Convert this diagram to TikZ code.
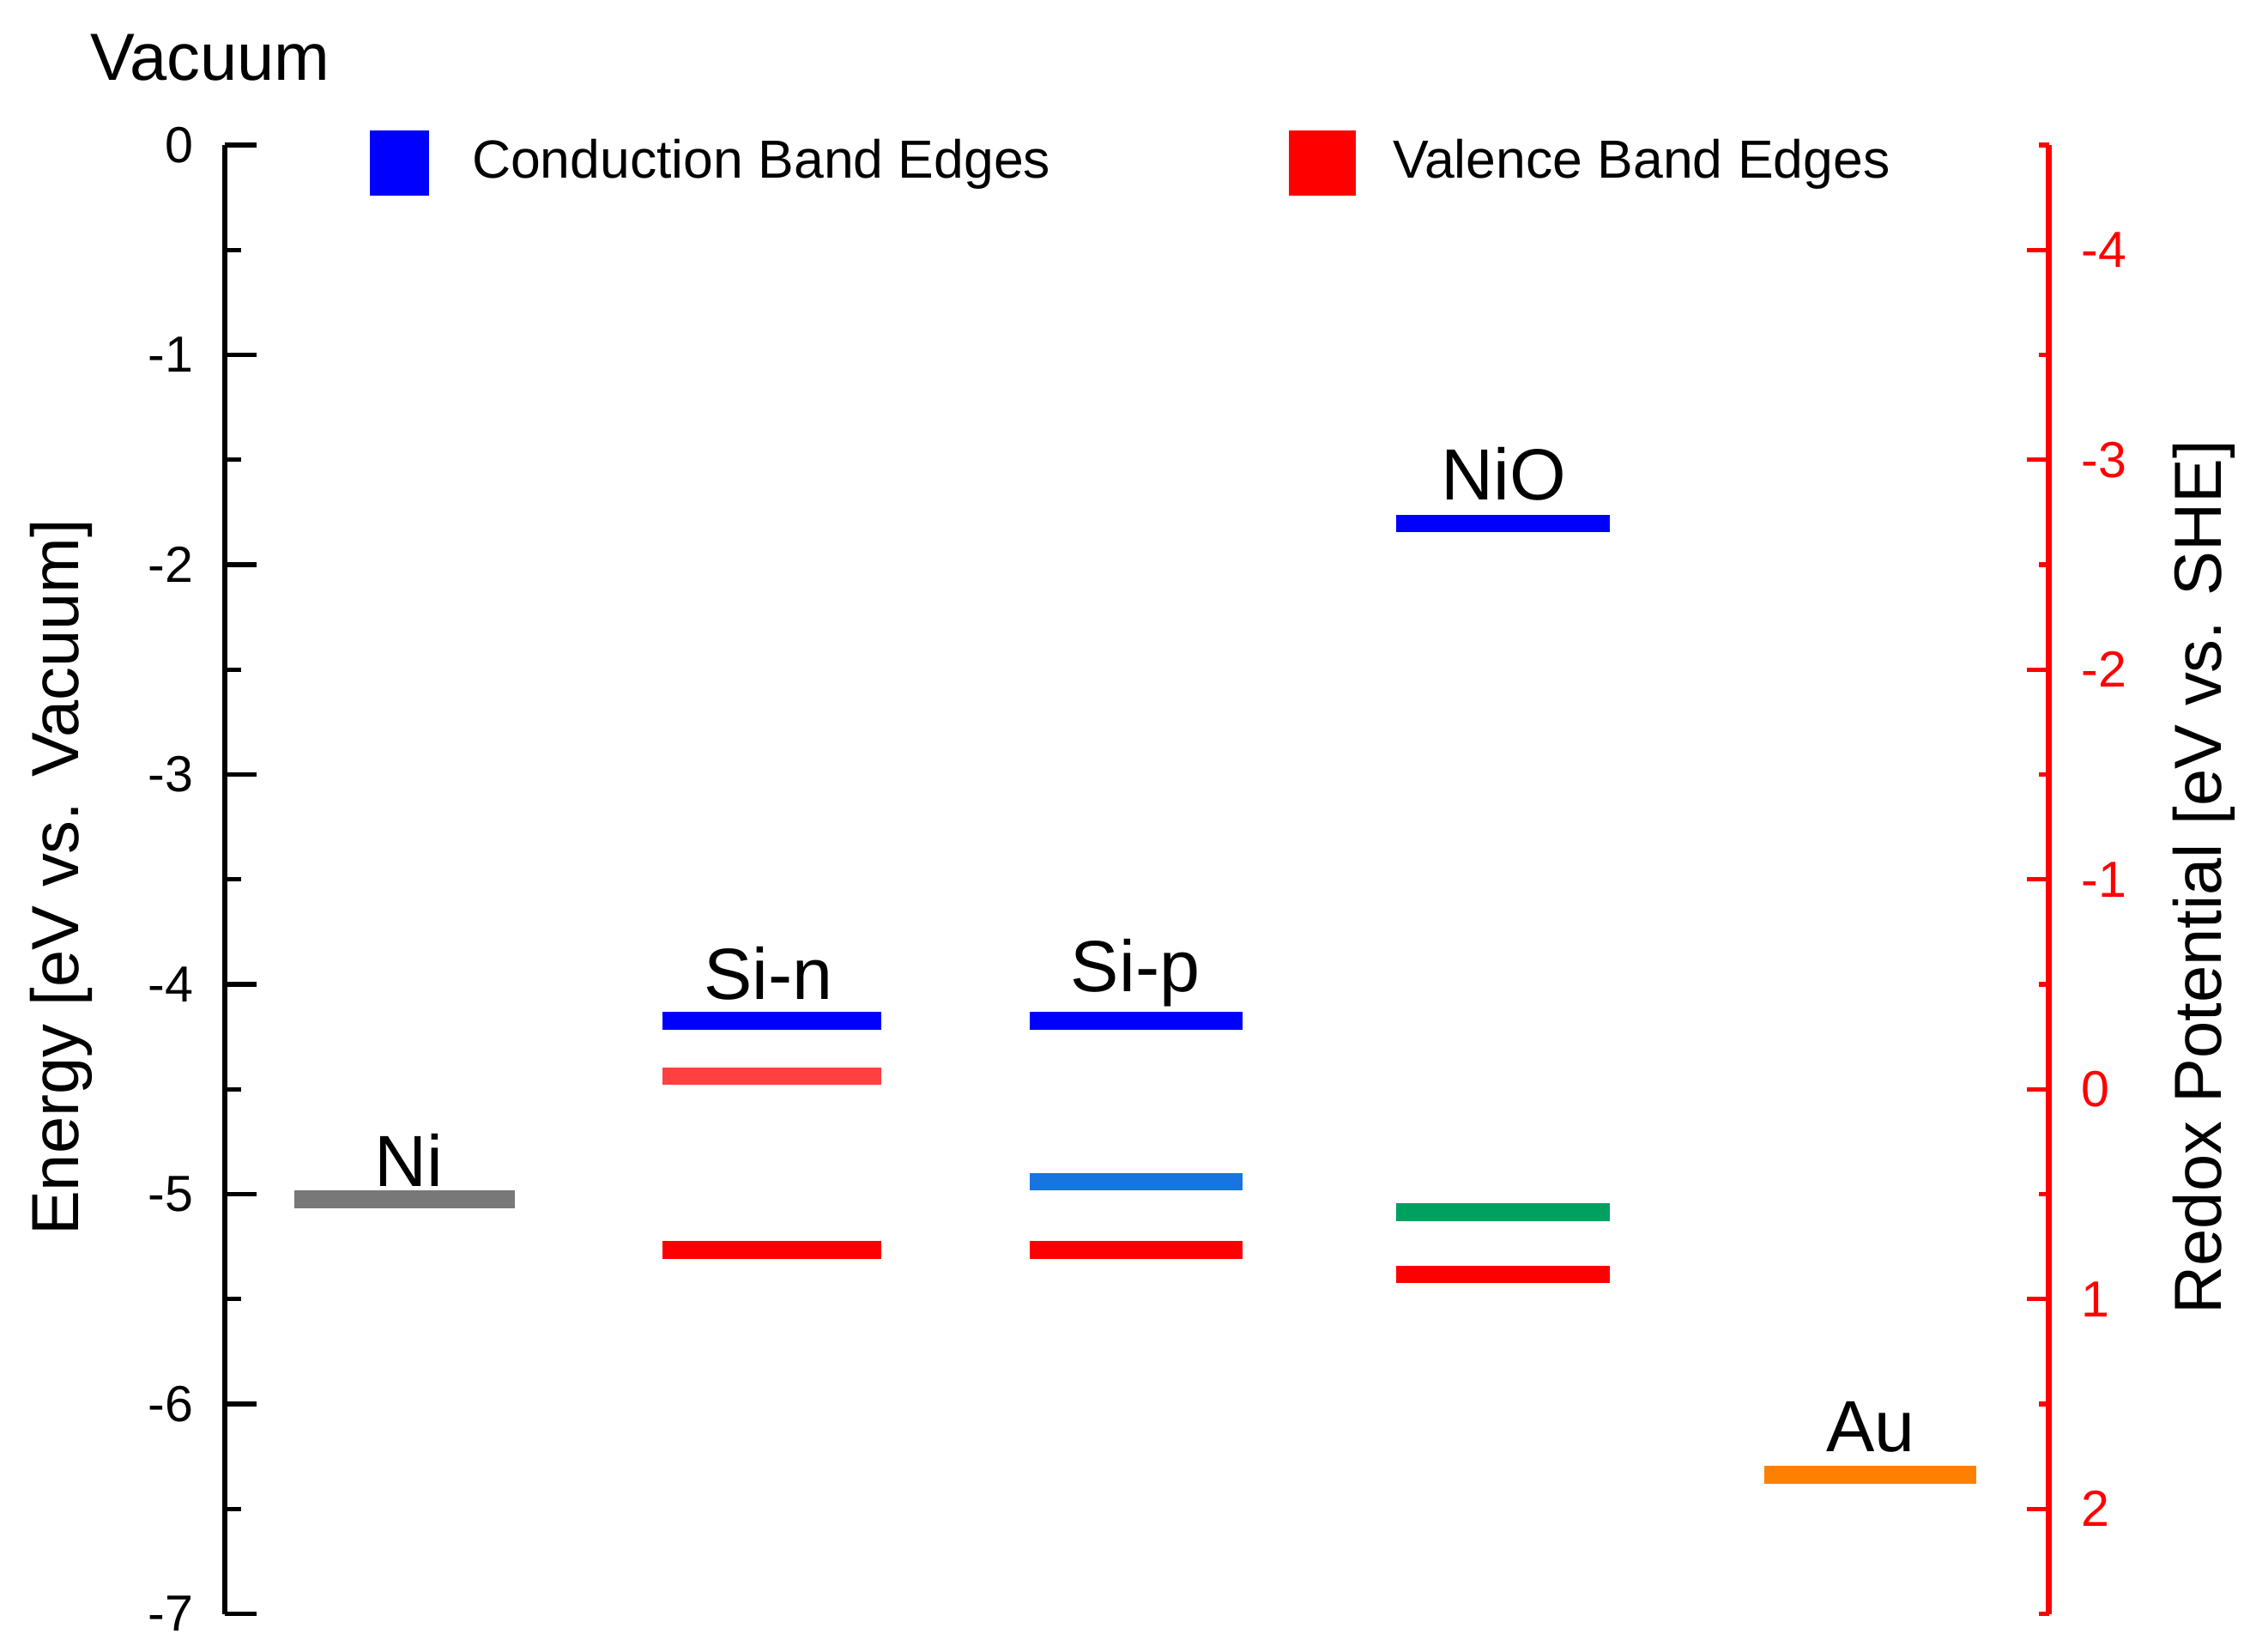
\documentclass[tikz,border=0pt]{standalone}
\usepackage{fontspec}
\setmainfont{Liberation Sans}
\definecolor{cbblue}{RGB}{0,0,255}
\definecolor{cbred}{RGB}{255,0,0}
\definecolor{lred}{RGB}{255,64,64}
\definecolor{mblue}{RGB}{24,116,224}
\definecolor{cgreen}{RGB}{0,160,96}
\definecolor{corange}{RGB}{255,128,0}
\definecolor{cgray}{RGB}{120,120,120}
\tikzset{
 bar/.style={line width=12pt},
 tlab/.style={font=\fontsize{35}{35}\selectfont},
 blab/.style={font=\fontsize{50}{50}\selectfont},
 ttl/.style={font=\fontsize{46}{46}\selectfont},
 leg/.style={font=\fontsize{37}{37}\selectfont, anchor=west},
}
\begin{document}
\begin{tikzpicture}[x=1pt,y=-1pt]
\useasboundingbox (0,0) rectangle (1560,1139);
% left axis
\draw[line width=4pt] (155,100) -- (155,1113);
\foreach \i in {0,...,7}{
  \pgfmathsetmacro\yy{100+\i*144.7}
  \draw[line width=3pt] (155,\yy) -- (177,\yy);
  \node[tlab,anchor=east] at (137,\yy) {\ifnum\i=0 0\else -\i\fi};
}
\foreach \i in {0,...,6}{
  \pgfmathsetmacro\yy{100+(\i+0.5)*144.7}
  \draw[line width=3pt] (155,\yy) -- (166,\yy);
}
% right axis
\draw[cbred,line width=4pt] (1413,100) -- (1413,1113);
\foreach \r in {-4,...,2}{
  \pgfmathsetmacro\yy{100+(\r+4.5)*144.7}
  \draw[cbred,line width=3pt] (1413,\yy) -- (1398,\yy);
  \node[tlab,text=cbred,anchor=west] at (1432,\yy) {\r};
}
\foreach \r in {-4.5,-3.5,...,2.5}{
  \pgfmathsetmacro\yy{100+(\r+4.5)*144.7}
  \draw[cbred,line width=3pt] (1413,\yy) -- (1406,\yy);
}
% titles
\node[ttl] (vac) at (145,40) {Vacuum};
\node[ttl,rotate=90] (ytl) at (42,605) {Energy [eV vs. Vacuum]};
\node[ttl,rotate=90] (ytr) at (1520,605) {Redox Potential [eV vs. SHE]};
% legend
\fill[cbblue] (255,90) rectangle (296,135);
\node[leg] (lc) at (322,113) {Conduction Band Edges};
\fill[cbred] (889,90) rectangle (935,135);
\node[leg] (lv) at (957,113) {Valence Band Edges};
% bars
\draw[bar,cgray] (203,827) -- (355,827);
\node[blab] (ni) at (282,800) {Ni};
\draw[bar,cbblue] (457,704) -- (608,704);
\draw[bar,lred] (457,742) -- (608,742);
\draw[bar,cbred] (457,862) -- (608,862);
\node[blab] (sin) at (530,671) {Si-n};
\draw[bar,cbblue] (710,704) -- (857,704);
\draw[bar,mblue] (710,815) -- (857,815);
\draw[bar,cbred] (710,862) -- (857,862);
\node[blab] (sip) at (783,671) {Si-p};
\draw[bar,cbblue] (963,361) -- (1110,361);
\draw[bar,cgreen] (963,836) -- (1110,836);
\draw[bar,cbred] (963,879) -- (1110,879);
\node[blab] (nio) at (1037,327) {NiO};
\draw[bar,corange] (1217,1017) -- (1363,1017);
\node[blab] (au) at (1290,984) {Au};
\end{tikzpicture}
\end{document}
